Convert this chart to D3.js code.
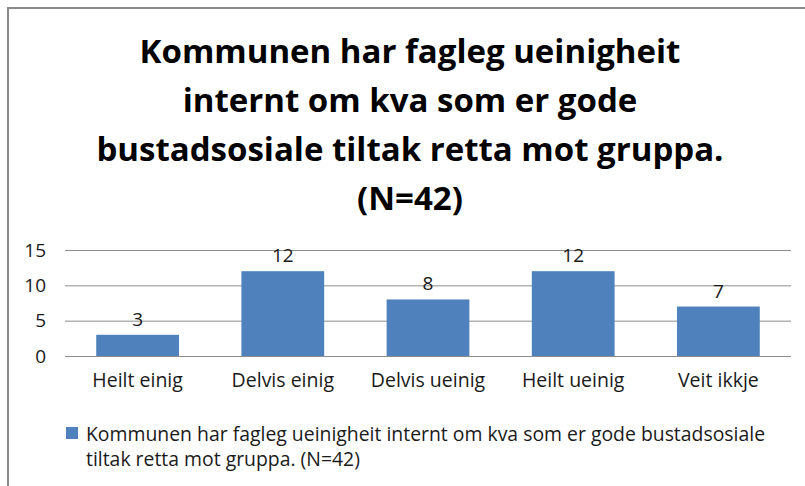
<html lang="en">
<head>
<meta charset="utf-8">
<title></title>
<style>
  body { margin: 0; background: #fff; }
  text { font-family: "Open Sans", "DejaVu Sans", sans-serif; }
  .title { font-weight: bold; fill: #000; }
  .grid line { stroke: #8c8c8c; stroke-width: 1; }
</style>
<script src="https://d3js.org/d3.v7.min.js"></script>
</head>
<body>
<svg id="svg1" width="805" height="486"></svg>
<script>
// data
var categories = ["Heilt einig", "Delvis einig", "Delvis ueinig", "Heilt ueinig", "Veit ikkje"];
var values = [3, 12, 8, 12, 7];
var yTicks = [0, 5, 10, 15];
var titleLines = ["Kommunen har fagleg ueinigheit", "internt om kva som er gode", "bustadsosiale tiltak retta mot gruppa.", "(N=42)"];
var legendLines = ["Kommunen har fagleg ueinigheit internt om kva som er gode bustadsosiale", "tiltak retta mot gruppa. (N=42)"];

var svg = d3.select("#svg1");

// outer frame (only top/left visible in picture)
svg.append("rect")
    .attr("x", 8).attr("y", 8)
    .attr("width", 820).attr("height", 500)
    .attr("fill", "none")
    .attr("stroke", "#888")
    .attr("stroke-width", 2);

var plot = {left: 65, right: 791, top: 250, bottom: 356};

var x = d3.scaleBand().domain(categories).range([plot.left, plot.right]).paddingInner(0.43).paddingOuter(0.215);
var y = d3.scaleLinear().domain([0, 15]).range([plot.bottom, plot.top]);

// title
svg.append("text")
    .attr("class", "title")
    .attr("text-anchor", "middle")
    .style("font-size", "33px")
  .selectAll("tspan")
  .data(titleLines)
  .enter().append("tspan")
    .attr("x", 410)
    .attr("y", function(d, i) { return 63 + i * 49; })
    .text(function(d) { return d; });

// gridlines
svg.append("g").attr("class", "grid")
  .selectAll("line")
  .data(yTicks)
  .enter().append("line")
    .attr("x1", plot.left).attr("x2", plot.right)
    .attr("y1", function(d) { return y(d) + 0.5; })
    .attr("y2", function(d) { return y(d) + 0.5; });

// y axis labels
var yAxis = d3.axisLeft(y).tickValues(yTicks).tickSize(0).tickPadding(19);
svg.append("g")
    .attr("transform", "translate(" + plot.left + ",0)")
    .call(yAxis)
    .call(function(g) { g.select(".domain").remove(); })
    .selectAll("text")
    .style("font-size", "19px")
    .style("font-family", "\"Open Sans\", sans-serif")
    .attr("fill", "#1a1a1a");

// x axis labels
var xAxis = d3.axisBottom(x).tickSize(0).tickPadding(17);
svg.append("g")
    .attr("transform", "translate(0," + plot.bottom + ")")
    .call(xAxis)
    .call(function(g) { g.select(".domain").remove(); })
    .selectAll("text")
    .style("font-size", "19.5px")
    .style("font-family", "\"Open Sans\", sans-serif")
    .attr("fill", "#1a1a1a");

// bars
svg.selectAll(".bar")
  .data(values)
  .enter().append("rect")
    .attr("class", "bar")
    .attr("x", function(d, i) { return x(categories[i]); })
    .attr("width", x.bandwidth())
    .attr("y", function(d) { return y(d); })
    .attr("height", function(d) { return y(0) - y(d); })
    .attr("fill", "#4f81bd");

// data labels
svg.selectAll(".lbl")
  .data(values)
  .enter().append("text")
    .attr("class", "lbl")
    .attr("text-anchor", "middle")
    .attr("x", function(d, i) { return x(categories[i]) + x.bandwidth() / 2; })
    .attr("y", function(d) { return y(d) - 9; })
    .style("font-size", "19px")
    .attr("fill", "#1a1a1a")
    .text(function(d) { return d; });

// legend
svg.append("rect")
    .attr("x", 66).attr("y", 427)
    .attr("width", 12).attr("height", 12)
    .attr("fill", "#4f81bd");

svg.append("text")
    .style("font-size", "19.4px")
    .attr("fill", "#1a1a1a")
  .selectAll("tspan")
  .data(legendLines)
  .enter().append("tspan")
    .attr("x", 86)
    .attr("y", function(d, i) { return 441 + i * 25; })
    .text(function(d) { return d; });
</script>
</body>
</html>
